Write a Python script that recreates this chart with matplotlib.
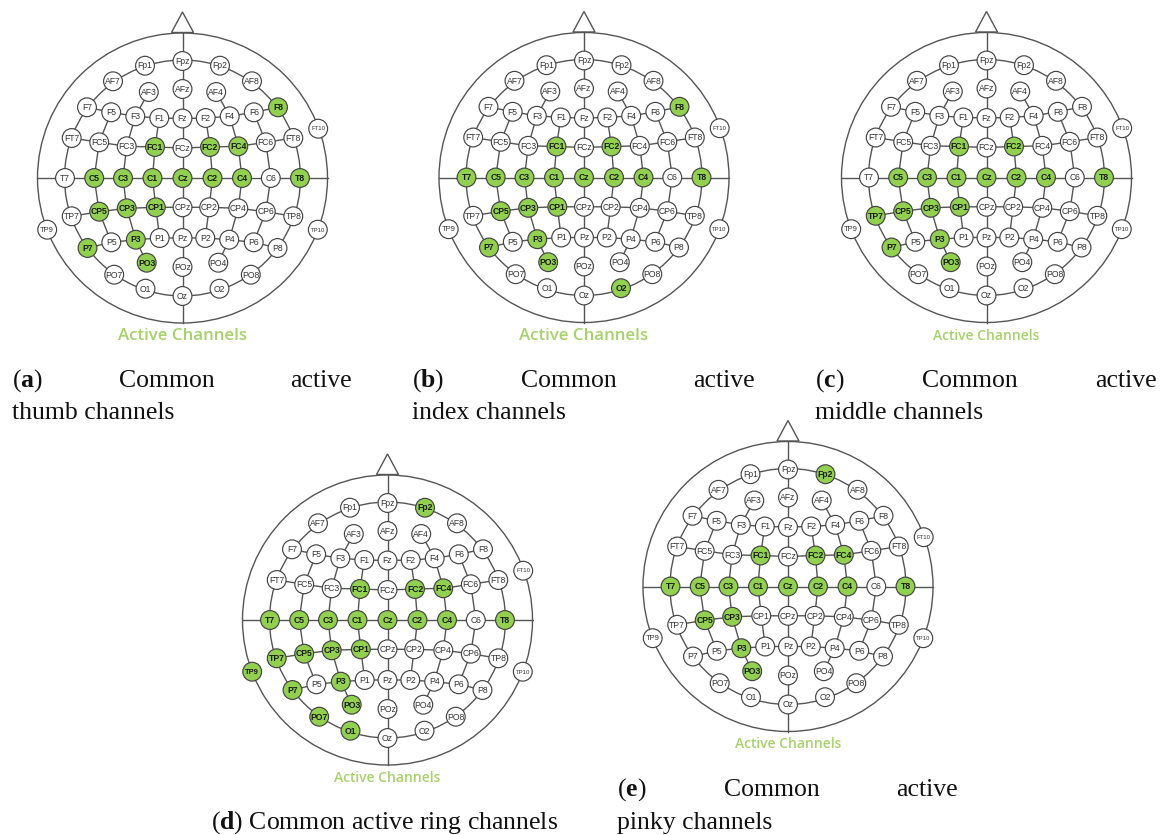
import matplotlib
matplotlib.use("Agg")
import matplotlib.pyplot as plt
from matplotlib.patches import Circle, Polygon

plt.rcParams['mathtext.fontset'] = 'custom'
plt.rcParams['mathtext.rm'] = 'Liberation Serif'
plt.rcParams['mathtext.bf'] = 'Liberation Serif:bold'

# 10-10 electrode layout, offsets in px from Cz (y grows downward)
channels = ['Fp1', 'Fpz', 'Fp2',
            'AF7', 'AF3', 'AFz', 'AF4', 'AF8',
            'F7', 'F5', 'F3', 'F1', 'Fz', 'F2', 'F4', 'F6', 'F8',
            'FT7', 'FC5', 'FC3', 'FC1', 'FCz', 'FC2', 'FC4', 'FC6', 'FT8', 'FT10',
            'T7', 'C5', 'C3', 'C1', 'Cz', 'C2', 'C4', 'C6', 'T8',
            'TP9', 'TP7', 'CP5', 'CP3', 'CP1', 'CPz', 'CP2', 'CP4', 'CP6', 'TP8', 'TP10',
            'P7', 'P5', 'P3', 'P1', 'Pz', 'P2', 'P4', 'P6', 'P8',
            'PO7', 'PO3', 'POz', 'PO4', 'PO8',
            'O1', 'Oz', 'O2']
chan_x = [-37.5, 0, 37.5,
          -69.5, -33.7, 0, 33.7, 69.5,
          -95.5, -71.3, -47.2, -23.2, 0, 23.2, 47.2, 71.3, 95.5,
          -110.8, -83.3, -55.8, -27.5, 0, 27.5, 55.8, 83.3, 110.8, 135.7,
          -117.5, -88.3, -59.5, -30, 0, 30, 59.5, 88.3, 117.5,
          -135.3, -110.8, -83.3, -55.8, -26.7, 0, 26.7, 55.8, 83.3, 110.8, 135.3,
          -95, -71.2, -46.7, -22.8, 0, 22.8, 46.7, 71.2, 95,
          -68.3, -35.8, 0, 35.8, 68.3,
          -37, 0, 37]
chan_y = [-112.3, -117, -112.3,
          -96.7, -86, -89, -86, -96.7,
          -70.7, -65.7, -61.7, -60, -59.5, -60, -61.7, -65.7, -70.7,
          -40, -35.7, -31.7, -31, -30, -31, -31.7, -35.7, -40, -49.3,
          0, 0, 0, 0, 0, 0, 0, 0, 0,
          51.7, 38.3, 33.7, 30.3, 29.3, 29.3, 29.3, 30.3, 33.7, 38.3, 51.7,
          70, 64.3, 61.7, 60, 60, 60, 61.7, 64.3, 70,
          96.7, 84.7, 89, 84.7, 96.7,
          110.7, 118, 110.7]

# connecting lines (rows and columns) between electrodes
links = [
    ['F7', 'F5', 'F3', 'F1', 'Fz', 'F2', 'F4', 'F6', 'F8'],
    ['FT7', 'FC5', 'FC3', 'FC1', 'FCz', 'FC2', 'FC4', 'FC6', 'FT8'],
    ['TP7', 'CP5', 'CP3', 'CP1', 'CPz', 'CP2', 'CP4', 'CP6', 'TP8'],
    ['P7', 'P5', 'P3', 'P1', 'Pz', 'P2', 'P4', 'P6', 'P8'],
    ['AF3', 'F3', 'FC3', 'C3', 'CP3', 'P3', 'PO3'],
    ['AF4', 'F4', 'FC4', 'C4', 'CP4', 'P4', 'PO4'],
    ['F1', 'FC1', 'C1', 'CP1', 'P1'],
    ['F2', 'FC2', 'C2', 'CP2', 'P2'],
    ['F5', 'FC5', 'C5', 'CP5', 'P5'],
    ['F6', 'FC6', 'C6', 'CP6', 'P6'],
]

active_thumb = ['F8', 'FC1', 'FC2', 'FC4', 'C5', 'C3', 'C1', 'Cz', 'C2', 'C4', 'T8',
                'CP5', 'CP3', 'CP1', 'P7', 'P3', 'PO3']
active_index = ['F8', 'FC1', 'FC2', 'T7', 'C5', 'C3', 'C1', 'Cz', 'C2', 'C4', 'T8',
                'CP5', 'CP3', 'CP1', 'P7', 'P3', 'PO3', 'O2']
active_middle = ['FC1', 'FC2', 'C5', 'C3', 'C1', 'Cz', 'C2', 'C4', 'T8',
                 'TP7', 'CP5', 'CP3', 'CP1', 'P7', 'P3', 'PO3']
active_ring = ['Fp2', 'FC1', 'FC2', 'FC4', 'T7', 'C5', 'C3', 'C1', 'Cz', 'C2', 'C4', 'T8',
               'TP9', 'TP7', 'CP5', 'CP3', 'CP1', 'P7', 'P3', 'PO7', 'PO3', 'O1']
active_pinky = ['Fp2', 'FC1', 'FC2', 'FC4', 'T7', 'C5', 'C3', 'C1', 'Cz', 'C2', 'C4', 'T8',
                'CP5', 'CP3', 'P3', 'PO3']

fingers = ['thumb', 'index', 'middle', 'ring', 'pinky']
letters = ['a', 'b', 'c', 'd', 'e']
actives = [active_thumb, active_index, active_middle, active_ring, active_pinky]

GREEN = '#92d050'
LABEL_GREEN = '#a6d26a'
LINE = '#555555'
HEAD_R = 145
RING_R = 118
NODE_R = 9.4

pos = {n: (x, y) for n, x, y in zip(channels, chan_x, chan_y)}

fig = plt.figure(figsize=(11.64, 8.35), dpi=100)
ax = fig.add_axes([0, 0, 1, 1])
ax.set_xlim(0, 1164)
ax.set_ylim(835, 0)
ax.axis('off')


def draw_head(cx, cy, active, label_w):
    lw = 1.0
    ax.add_patch(Circle((cx, cy), HEAD_R, fill=False, ec=LINE, lw=lw, zorder=1))
    ax.add_patch(Circle((cx, cy), RING_R, fill=False, ec=LINE, lw=lw, zorder=1))
    # nose
    ax.add_patch(Polygon([(cx - 11, cy - HEAD_R - 0.5), (cx, cy - HEAD_R - 21),
                          (cx + 11, cy - HEAD_R - 0.5)], closed=True,
                         fill=False, ec=LINE, lw=lw, zorder=1))
    ax.plot([cx - HEAD_R, cx + HEAD_R], [cy, cy], color=LINE, lw=lw, zorder=1)
    ax.plot([cx, cx], [cy - HEAD_R, cy + HEAD_R], color=LINE, lw=lw, zorder=1)
    for chain in links:
        ax.plot([cx + pos[n][0] for n in chain], [cy + pos[n][1] for n in chain],
                color=LINE, lw=lw, zorder=1)

    for n in channels:
        x, y = cx + pos[n][0], cy + pos[n][1]
        on = n in active
        ax.add_patch(Circle((x, y), NODE_R, fc=GREEN if on else 'white',
                            ec='#444444', lw=0.85, zorder=2))
        fs = 6.2
        if n.endswith('10'):
            fs = 4.3
        elif n == 'TP9':
            fs = 5.4
        ax.text(x, y + 0.3, n, ha='center', va='center', fontsize=fs,
                family='Liberation Sans', color='#1a1a1a' if on else '#333333',
                fontweight='bold' if on else 'normal', zorder=3)

    t = ax.text(cx, cy + 158, 'Active Channels', ha='center', va='center',
                fontsize=10, family='Open Sans', fontweight='semibold',
                color=LABEL_GREEN)
    fig.canvas.draw()
    w = t.get_window_extent().width
    t.set_fontsize(10 * label_w / w)


centers = [(182.5, 178), (584, 177.5), (986.5, 177.5), (387.5, 620), (788, 586.5)]
label_widths = [129, 129, 106, 106, 106]
for (cx, cy), act, lw_ in zip(centers, actives, label_widths):
    draw_head(cx, cy, act, lw_)

# captions
cap_font = dict(fontsize=18.5, family='Liberation Serif', color='#111111', va='baseline')
inv = ax.transData.inverted()


def justified_caption(letter, finger, x0, x1, y1, y2):
    first = ax.text(x0, y1, r'($\mathbf{%s}$)' % letter, ha='left', **cap_font)
    last = ax.text(x1, y1, 'active', ha='right', **cap_font)
    fig.canvas.draw()
    r = fig.canvas.get_renderer()
    a_right = inv.transform((first.get_window_extent(r).x1, 0))[0]
    b_left = inv.transform((last.get_window_extent(r).x0, 0))[0]
    ax.text((a_right + b_left) / 2, y1, 'Common', ha='center', **cap_font)
    ax.text(x0, y2, finger + ' channels', ha='left', **cap_font)


justified_caption('a', 'thumb', 12, 352, 387, 419)
justified_caption('b', 'index', 412, 755, 387, 419)
justified_caption('c', 'middle', 815, 1157, 387, 419)
justified_caption('e', 'pinky', 617, 958, 796, 829)
ax.text(385, 829, r'($\mathbf{d}$) Common active ring channels', ha='center', **cap_font)

fig.savefig('out.png', dpi=100)
